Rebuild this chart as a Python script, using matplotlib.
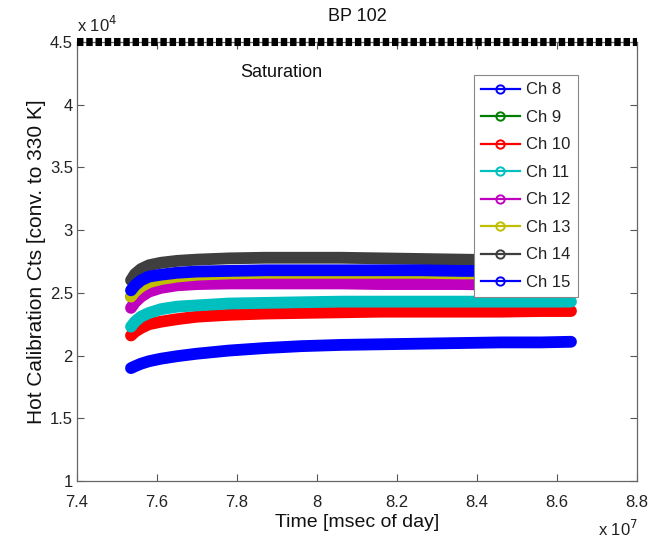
import numpy as np
import matplotlib
matplotlib.use("Agg")
import matplotlib.pyplot as plt
from matplotlib.lines import Line2D
from matplotlib.ticker import FuncFormatter, FixedLocator

plt.rcParams['font.family'] = ['Liberation Sans', 'DejaVu Sans']

# Time [msec of day]
time_ms = [75350000, 75450000, 75600000, 75800000, 76100000, 76500000, 77000000,
           77800000, 78700000, 79600000, 80600000, 81600000, 82600000, 83600000,
           84600000, 85600000, 86350000]

channels = ["Ch 8", "Ch 9", "Ch 10", "Ch 11", "Ch 12", "Ch 13", "Ch 14", "Ch 15"]
colors = ["#0000ff", "#007f00", "#ff0000", "#00bfbf", "#bf00bf", "#bfbf00", "#3f3f3f", "#0000ff"]

ch8 = [19000, 19150, 19350, 19550, 19750, 19950, 20150, 20400, 20600, 20750, 20850,
       20900, 20950, 21000, 21050, 21050, 21100]
ch9 = [24700, 25050, 25450, 25800, 26050, 26250, 26400, 26450, 26500, 26500, 26500,
       26500, 26500, 26450, 26450, 26450, 26450]
ch10 = [21600, 21900, 22200, 22500, 22700, 22900, 23100, 23250, 23350, 23400, 23450,
        23500, 23500, 23500, 23500, 23550, 23550]
ch11 = [22300, 22700, 23100, 23400, 23700, 23900, 24000, 24150, 24200, 24250, 24300,
        24300, 24300, 24300, 24300, 24300, 24300]
ch12 = [23800, 24250, 24700, 25100, 25400, 25600, 25700, 25750, 25750, 25750, 25750,
        25700, 25700, 25700, 25650, 25650, 25650]
ch13 = [24700, 25100, 25500, 25850, 26100, 26300, 26450, 26550, 26600, 26600, 26600,
        26600, 26600, 26550, 26550, 26550, 26550]
ch14 = [26000, 26500, 26900, 27200, 27400, 27550, 27650, 27750, 27800, 27800, 27800,
        27750, 27700, 27650, 27600, 27550, 27500]
ch15 = [25200, 25600, 26000, 26300, 26450, 26600, 26700, 26750, 26800, 26800, 26800,
        26800, 26800, 26750, 26750, 26700, 26700]
series = [ch8, ch9, ch10, ch11, ch12, ch13, ch14, ch15]

saturation_level = 45000
x_ticks = [74000000, 76000000, 78000000, 80000000, 82000000, 84000000, 86000000, 88000000]
y_ticks = [10000, 15000, 20000, 25000, 30000, 35000, 40000, 45000]

fig = plt.figure(figsize=(6.58, 5.39), dpi=100)
ax = fig.add_axes([77/658, 1 - 481/539, 560/658, 439/539])

for vals, c in zip(series, colors):
    ax.plot(time_ms, vals, color=c, lw=8.5, solid_capstyle='round', solid_joinstyle='round')

ax.axhline(saturation_level, color='black', lw=5.8, ls=(0, (0.8, 0.35)), clip_on=False, zorder=5)
ax.text(79100000, 42600, "Saturation", ha='center', va='center', fontsize=13, color='#111111')

ax.set_xlim(74000000, 88000000)
ax.set_ylim(10000, 45000)
ax.xaxis.set_major_locator(FixedLocator(x_ticks))
ax.yaxis.set_major_locator(FixedLocator(y_ticks))
ax.xaxis.set_major_formatter(FuncFormatter(lambda v, p: "%g" % round(v / 1e7, 3)))
ax.yaxis.set_major_formatter(FuncFormatter(lambda v, p: "%g" % round(v / 1e4, 3)))

ax.tick_params(direction='in', top=True, right=True, length=5, width=0.8,
               colors='#555555', labelcolor='#222222', labelsize=12)
ax.tick_params(axis='x', pad=10)
ax.tick_params(axis='y', pad=3)
for s in ax.spines.values():
    s.set_color('#666666')
    s.set_linewidth(0.9)

ax.set_xlabel("Time [msec of day]", fontsize=14, color='#111111', labelpad=3)
ax.set_ylabel("Hot Calibration Cts [conv. to 330 K]", fontsize=15, color='#111111', labelpad=3)
ax.set_title("BP 102", fontsize=13, color='#111111', pad=15)

fig.text(77/658, 1 - 25/539, r"x 10$^{4}$", fontsize=12, color='#222222', va='center', ha='left')
fig.text(598/658, 1 - 529/539, r"x 10$^{7}$", fontsize=12, color='#222222', va='center', ha='left')

handles = [Line2D([0], [0], color=c, lw=1.6, marker='o', ms=6, mfc='none', mec=c, mew=1.4)
           for c in colors]
leg = ax.legend(handles, channels, loc='upper right', bbox_to_anchor=(0.895, 0.925),
                borderaxespad=0, fancybox=False, edgecolor='#888888', fontsize=12,
                handlelength=2.3, handletextpad=0.4, labelspacing=0.75, borderpad=0.45,
                framealpha=1)
leg.get_frame().set_linewidth(0.8)
for t in leg.get_texts():
    t.set_color('#222222')

fig.savefig("out.png", dpi=100)
